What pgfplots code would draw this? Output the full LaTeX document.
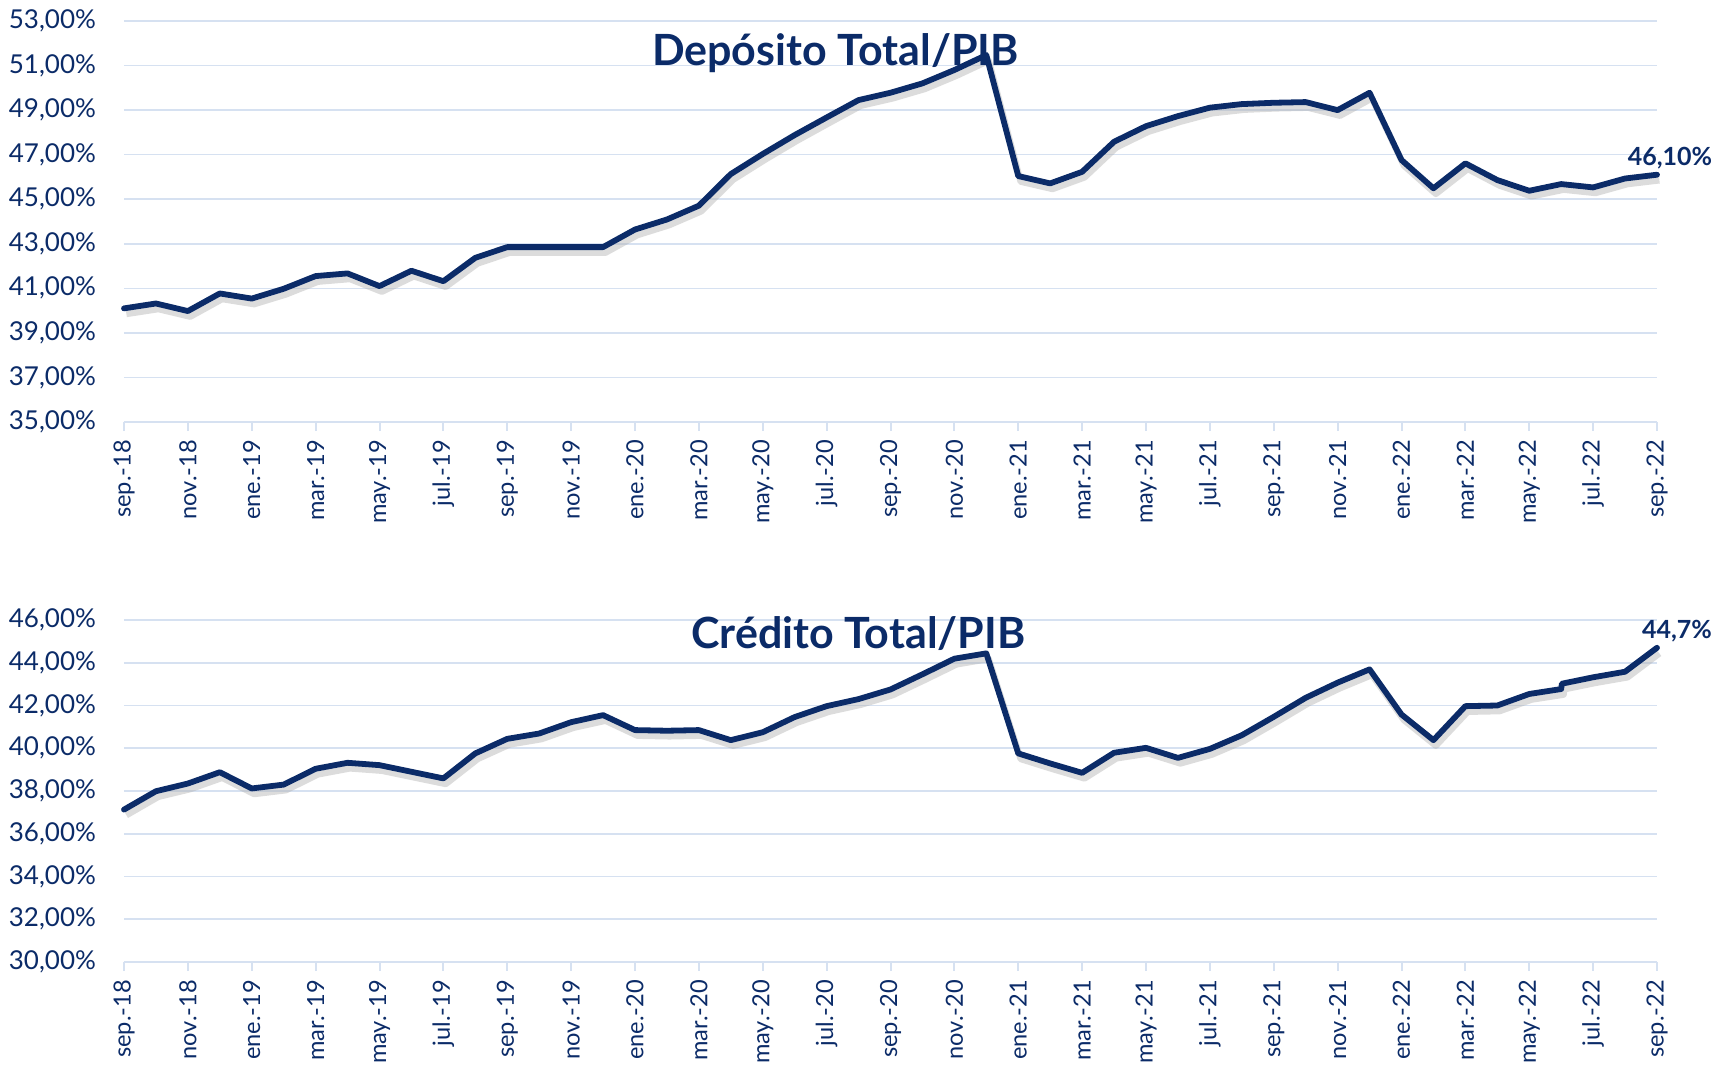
\documentclass[border=0pt]{standalone}
\usepackage{pgfplots}
\pgfplotsset{compat=1.18}
\usepackage{fontspec}
\setmainfont{Lato}
\definecolor{navy}{HTML}{0B2B68}
\definecolor{gridblue}{HTML}{D6E1F1}

\pgfplotstableread{
x y
0 40.10
1 40.32
2 39.98
3 40.77
4 40.54
5 40.98
6 41.55
7 41.67
8 41.10
9 41.79
10 41.32
11 42.37
12 42.85
13 42.85
14 42.85
15 42.85
16 43.64
17 44.09
18 44.71
19 46.13
20 47.03
21 47.88
22 48.67
23 49.45
24 49.78
25 50.20
26 50.80
27 51.47
28 46.04
29 45.71
30 46.23
31 47.58
32 48.28
33 48.73
34 49.11
35 49.27
36 49.33
37 49.36
38 49.00
39 49.78
40 46.76
41 45.49
42 46.61
43 45.86
44 45.38
45 45.68
46 45.53
47 45.93
48 46.10
}\deposito

\pgfplotstableread{
x y
0 37.13
1 37.99
2 38.35
3 38.88
4 38.12
5 38.30
6 39.04
7 39.32
8 39.21
9 38.90
10 38.59
11 39.76
12 40.44
13 40.69
14 41.22
15 41.55
16 40.85
17 40.82
18 40.85
19 40.38
20 40.75
21 41.46
22 41.97
23 42.30
24 42.75
25 43.46
26 44.19
27 44.44
28 39.76
29 39.29
30 38.85
31 39.79
32 40.02
33 39.55
34 39.97
35 40.61
36 41.47
37 42.36
38 43.07
39 43.69
40 41.58
41 40.38
42 41.97
43 42.00
44 42.54
45 42.77
45.02 43.02
46 43.32
47 43.58
48 44.70
}\credito

\pgfplotsset{
  panel/.style={
    scale only axis,
    width=766.5pt,
    xmin=0, xmax=48,
    axis x line*=bottom,
    axis y line*=left,
    y axis line style={draw=none},
    x axis line style={draw=gridblue, line width=1pt},
    xtick={0,2,...,48},
    xticklabels={sep.-18,nov.-18,ene.-19,mar.-19,may.-19,jul.-19,sep.-19,nov.-19,ene.-20,mar.-20,may.-20,jul.-20,sep.-20,nov.-20,ene.-21,mar.-21,may.-21,jul.-21,sep.-21,nov.-21,ene.-22,mar.-22,may.-22,jul.-22,sep.-22},
    xticklabel style={rotate=90, anchor=east, font=\fontsize{11.8}{13}\selectfont, text=navy, xshift=-1pt},
    x tick style={draw=gridblue, line width=1pt},
    tick align=outside,
    major tick length=4.5pt,
    ytick style={draw=none},
    yticklabel style={font=\fontsize{13}{15}\selectfont, text=navy, xshift=-6pt},
    ymajorgrids,
    grid style={draw=gridblue, line width=0.8pt},
    clip=false,
  },
  shadow/.style={black!30, opacity=0.45, line width=3.2pt, xshift=1.2pt, yshift=-2.8pt, line join=round},
  mainline/.style={navy, line width=2.9pt, line join=round, line cap=round},
}

\begin{document}
\begin{tikzpicture}
\path[use as bounding box] (-62pt,-322pt) rectangle (799pt,211pt);
\begin{axis}[panel,
  at={(0pt,0pt)}, anchor=south west,
  height=200.5pt,
  ymin=35, ymax=53,
  ytick={35,37,...,53},
  yticklabels={35{,}00\%,37{,}00\%,39{,}00\%,41{,}00\%,43{,}00\%,45{,}00\%,47{,}00\%,49{,}00\%,51{,}00\%,53{,}00\%},
]
\addplot[shadow] table[x=x,y=y] {\deposito};
\addplot[mainline] table[x=x,y=y] {\deposito};
\node[anchor=base, font=\fontsize{21.5}{26}\selectfont\bfseries, text=navy] at (rel axis cs:0.464,0.888) {Depósito Total/PIB};
\node[anchor=base, font=\fontsize{12.5}{14}\selectfont\bfseries, text=navy, xshift=6.5pt, yshift=4.5pt] at (axis cs:48,46.10) {46,10\%};
\end{axis}

\begin{axis}[panel,
  at={(0pt,-270pt)}, anchor=south west,
  height=171pt,
  ymin=30, ymax=46,
  ytick={30,32,...,46},
  yticklabels={30{,}00\%,32{,}00\%,34{,}00\%,36{,}00\%,38{,}00\%,40{,}00\%,42{,}00\%,44{,}00\%,46{,}00\%},
]
\addplot[shadow] table[x=x,y=y] {\credito};
\addplot[mainline] table[x=x,y=y] {\credito};
\node[anchor=base, font=\fontsize{21.5}{26}\selectfont\bfseries, text=navy] at (rel axis cs:0.479,0.918) {Crédito Total/PIB};
\node[anchor=base, font=\fontsize{12.5}{14}\selectfont\bfseries, text=navy, xshift=10pt, yshift=4.5pt] at (axis cs:48,44.70) {44,7\%};
\end{axis}
\end{tikzpicture}
\end{document}
